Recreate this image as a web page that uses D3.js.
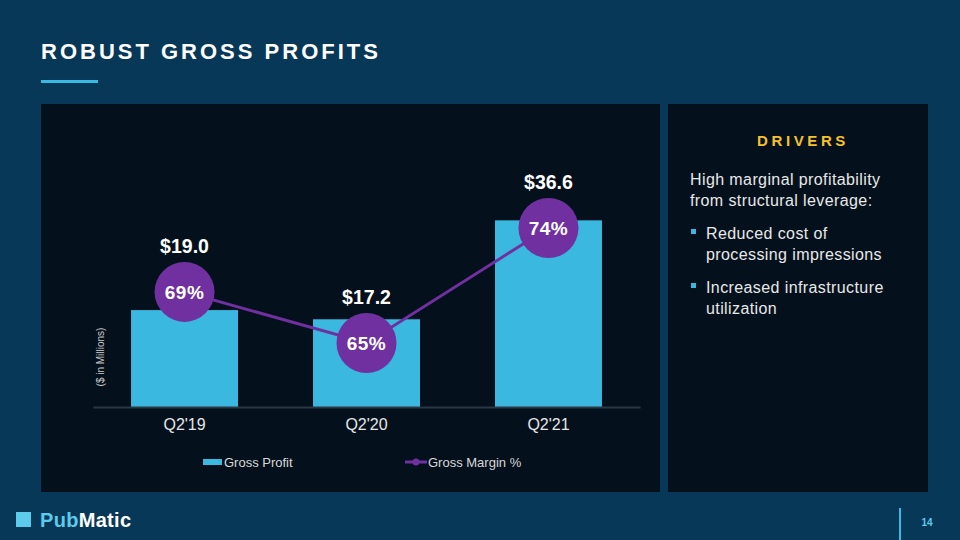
<!DOCTYPE html>
<html><head><meta charset="utf-8">
<script src="https://cdn.jsdelivr.net/npm/d3@7"></script>
<style>html,body{margin:0;padding:0;background:#083858;}svg{display:block;font-family:"Liberation Sans",Arial,sans-serif;}</style>
</head><body>
<svg id="c" width="960" height="540"></svg>
<script>
const categories = ["Q2'19", "Q2'20", "Q2'21"];
const grossProfit = [19.0, 17.2, 36.6];
const profitLabels = ["$19.0", "$17.2", "$36.6"];
const grossMargin = [69, 65, 74];
const marginLabels = ["69%", "65%", "74%"];
const legendLabels = ["Gross Profit", "Gross Margin %"];
const driverIntro = ["High marginal profitability", "from structural leverage:"];
const driverBullets = [["Reduced cost of", "processing impressions"], ["Increased infrastructure", "utilization"]];

const svg = d3.select("#c");
svg.append("rect").attr("width",960).attr("height",540).attr("fill","#083858");

// title
svg.append("text").attr("x",41).attr("y",59).attr("fill","#ffffff")
  .attr("font-size",22).attr("font-weight","bold").attr("letter-spacing",3)
  .text("ROBUST GROSS PROFITS");
svg.append("rect").attr("x",41).attr("y",80).attr("width",57).attr("height",3).attr("fill","#3cb9e2");

// panels
svg.append("rect").attr("x",41).attr("y",104).attr("width",619).attr("height",388).attr("fill","#04111d");
svg.append("rect").attr("x",668).attr("y",104).attr("width",260).attr("height",388).attr("fill","#04111d");

// chart
const x = d3.scaleBand().domain(categories).range([93,640]).paddingInner(0.412).paddingOuter(0.209);
const y = d3.scaleLinear().domain([0,40]).range([407,203]);
const y2 = d3.scaleLinear().domain([65,74]).range([343,228]);

const g = svg.append("g");
g.selectAll("rect.bar").data(grossProfit).join("rect").attr("class","bar")
  .attr("x",(d,i)=>x(categories[i])).attr("width",x.bandwidth())
  .attr("y",d=>y(d)).attr("height",d=>y(0)-y(d)).attr("fill","#3ab8e0");

const xAxis = g.append("g").attr("transform","translate(0,407)").call(d3.axisBottom(x).tickSize(0).tickPadding(12));
xAxis.select(".domain").attr("stroke","#2a3843").attr("stroke-width",2);
xAxis.selectAll("text").attr("fill","#e6e6e6").attr("font-size",16).attr("font-family","Liberation Sans, Arial, sans-serif");

const cx = i => x(categories[i]) + x.bandwidth()/2;
const line = d3.line().x((d,i)=>cx(i)).y(d=>y2(d));
g.append("path").datum(grossMargin).attr("d",line).attr("fill","none").attr("stroke","#7030a0").attr("stroke-width",3);
g.selectAll("circle.m").data(grossMargin).join("circle").attr("class","m")
  .attr("cx",(d,i)=>cx(i)).attr("cy",d=>y2(d)).attr("r",30).attr("fill","#7030a0");
g.selectAll("text.m").data(grossMargin).join("text").attr("class","m")
  .attr("x",(d,i)=>cx(i)).attr("y",d=>y2(d)+7).attr("text-anchor","middle")
  .attr("fill","#ffffff").attr("font-size",19).attr("font-weight","bold").attr("letter-spacing",0.5)
  .text((d,i)=>marginLabels[i]);
g.selectAll("text.p").data(grossProfit).join("text").attr("class","p")
  .attr("x",(d,i)=>cx(i)).attr("y",(d,i)=>y2(grossMargin[i])-39).attr("text-anchor","middle")
  .attr("fill","#ffffff").attr("font-size",19.5).attr("font-weight","bold")
  .text((d,i)=>profitLabels[i]);

svg.append("text").attr("transform","translate(104,357) rotate(-90)").attr("text-anchor","middle")
  .attr("fill","#c8c8c8").attr("font-size",10).text("($ in Millions)");

// legend
svg.append("rect").attr("x",203).attr("y",459).attr("width",19).attr("height",6).attr("fill","#3ab8e0");
svg.append("text").attr("x",224).attr("y",467).attr("fill","#d8d8d8").attr("font-size",13).text(legendLabels[0]);
svg.append("line").attr("x1",405).attr("x2",427).attr("y1",462).attr("y2",462).attr("stroke","#7030a0").attr("stroke-width",3);
svg.append("circle").attr("cx",416).attr("cy",462).attr("r",3.5).attr("fill","#7030a0");
svg.append("text").attr("x",428).attr("y",467).attr("fill","#d8d8d8").attr("font-size",13).text(legendLabels[1]);

// drivers panel
svg.append("text").attr("x",803).attr("y",146).attr("text-anchor","middle").attr("fill","#f4c22b")
  .attr("font-size",15).attr("font-weight","bold").attr("letter-spacing",3.6).text("DRIVERS");
driverIntro.forEach((t,i)=>svg.append("text").attr("x",690).attr("y",185+i*21).attr("fill","#e8e8e8").attr("font-size",16).attr("letter-spacing",0.4).text(t));
driverBullets.forEach((b,j)=>{
  const by = 239 + j*54;
  svg.append("rect").attr("x",691).attr("y",by-10).attr("width",5).attr("height",5).attr("fill","#3ab8e0");
  b.forEach((t,i)=>svg.append("text").attr("x",706).attr("y",by+i*21).attr("fill","#e8e8e8").attr("font-size",16).attr("letter-spacing",0.4).text(t));
});

// footer
svg.append("rect").attr("x",16).attr("y",512).attr("width",15).attr("height",15).attr("fill","#5ccbec");
const logo = svg.append("text").attr("x",40).attr("y",527).attr("font-size",20).attr("font-weight","bold").attr("letter-spacing",0.3);
logo.append("tspan").attr("fill","#5ccbec").text("Pub");
logo.append("tspan").attr("fill","#ffffff").text("Matic");
svg.append("rect").attr("x",899).attr("y",508).attr("width",2).attr("height",32).attr("fill","#3cb9e2");
svg.append("text").attr("x",927).attr("y",526).attr("text-anchor","middle").attr("fill","#5ccbec").attr("font-size",10).attr("font-weight","bold").text("14");
</script>
</body></html>
